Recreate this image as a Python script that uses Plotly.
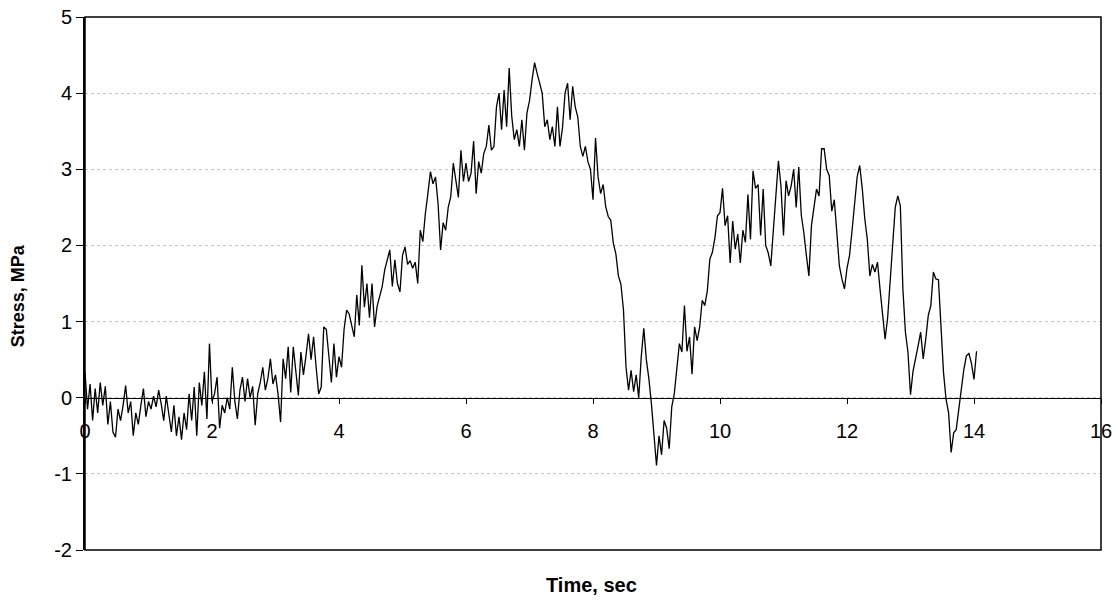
import numpy as np
import plotly.graph_objects as go

# Sampling interval of the record (s)
DT = 0.04

# Stress readings (MPa), one list per second of record, sampled every DT
stress_s00 = [0.33, -0.15, 0.18, -0.30, 0.12, -0.20, 0.20, -0.10, 0.15, -0.35,
              -0.05, -0.45, -0.52, -0.15, -0.30, -0.10, 0.16, -0.20, -0.05, -0.50,
              -0.20, -0.35, -0.10, 0.12, -0.25]
stress_s01 = [-0.05, -0.15, 0.02, -0.12, 0.10, -0.08, -0.30, 0.02, -0.20, -0.45,
              -0.10, -0.50, -0.25, -0.55, -0.20, -0.42, 0.05, -0.30, 0.14, -0.50,
              0.20, -0.10, 0.34, -0.28, 0.71]
stress_s02 = [-0.05, 0.05, 0.27, -0.40, -0.10, -0.20, 0.00, -0.15, 0.40, -0.05,
              -0.28, 0.10, 0.27, -0.05, 0.25, 0.00, 0.15, -0.36, 0.05, 0.20,
              0.40, 0.10, 0.25, 0.51, 0.18]
stress_s03 = [0.30, 0.05, -0.32, 0.51, 0.25, 0.67, 0.07, 0.67, 0.35, 0.03,
              0.60, 0.30, 0.55, 0.84, 0.50, 0.80, 0.40, 0.05, 0.14, 0.93,
              0.90, 0.50, 0.20, 0.71, 0.27]
stress_s04 = [0.54, 0.40, 0.90, 1.15, 1.10, 0.93, 0.80, 1.35, 0.95, 1.74,
              1.19, 1.50, 1.05, 1.50, 0.93, 1.20, 1.35, 1.46, 1.68, 1.81,
              1.94, 1.46, 1.81, 1.50, 1.39]
stress_s05 = [1.87, 1.98, 1.75, 1.80, 1.70, 1.78, 1.50, 2.20, 2.05, 2.42,
              2.68, 2.97, 2.81, 2.90, 2.55, 1.94, 2.30, 2.20, 2.50, 2.64,
              3.08, 2.84, 2.63, 3.25, 2.84]
stress_s06 = [3.08, 2.84, 2.95, 3.37, 2.68, 3.10, 2.95, 3.21, 3.30, 3.58,
              3.25, 3.30, 3.82, 4.00, 3.52, 4.04, 3.56, 4.33, 3.70, 3.39,
              3.52, 3.30, 3.65, 3.25, 3.74]
stress_s07 = [3.90, 4.17, 4.40, 4.26, 4.13, 4.00, 3.56, 3.65, 3.39, 3.56,
              3.30, 3.82, 3.30, 3.55, 4.00, 4.13, 3.65, 4.09, 3.82, 3.69,
              3.30, 3.17, 3.30, 3.10, 3.00]
stress_s08 = [2.60, 3.41, 2.90, 2.68, 2.80, 2.51, 2.38, 2.33, 2.03, 1.89,
              1.60, 1.49, 1.15, 0.40, 0.10, 0.36, 0.08, 0.30, 0.00, 0.54,
              0.91, 0.50, 0.25, -0.08, -0.55]
stress_s09 = [-0.89, -0.50, -0.75, -0.30, -0.40, -0.67, -0.12, 0.05, 0.40, 0.71,
              0.60, 1.21, 0.61, 0.80, 0.31, 0.93, 0.75, 0.93, 1.28, 1.21,
              1.40, 1.82, 1.91, 2.10, 2.39]
stress_s10 = [2.43, 2.75, 2.26, 2.39, 1.77, 2.32, 1.95, 2.15, 1.77, 2.20,
              2.04, 2.67, 2.08, 2.98, 2.75, 2.80, 2.13, 2.74, 2.00, 1.90,
              1.73, 2.20, 2.61, 3.11, 2.78]
stress_s11 = [2.13, 2.85, 2.65, 2.78, 3.00, 2.50, 3.03, 2.40, 2.17, 1.87,
              1.60, 2.26, 2.52, 2.74, 2.65, 3.27, 3.27, 3.00, 2.92, 2.45,
              2.60, 2.17, 1.73, 1.56, 1.43]
stress_s12 = [1.70, 1.87, 2.20, 2.61, 2.90, 3.05, 2.75, 2.35, 2.08, 1.60,
              1.75, 1.65, 1.78, 1.43, 1.12, 0.77, 1.05, 1.56, 2.00, 2.50,
              2.65, 2.52, 1.43, 0.86, 0.60]
stress_s13 = [0.04, 0.35, 0.50, 0.68, 0.86, 0.51, 0.77, 1.08, 1.21, 1.65,
              1.56, 1.55, 0.94, 0.33, -0.02, -0.20, -0.72, -0.46, -0.42, -0.11,
              0.11, 0.37, 0.55, 0.58, 0.45]
stress_s14 = [0.24, 0.61]

x_ticks = [0, 2, 4, 6, 8, 10, 12, 14, 16]
y_ticks = [-2, -1, 0, 1, 2, 3, 4, 5]

stress = (stress_s00 + stress_s01 + stress_s02 + stress_s03 + stress_s04 +
          stress_s05 + stress_s06 + stress_s07 + stress_s08 + stress_s09 +
          stress_s10 + stress_s11 + stress_s12 + stress_s13 + stress_s14)
time = np.round(np.arange(len(stress)) * DT, 4)

FONT = "Liberation Sans, Arial, sans-serif"

fig = go.Figure()
fig.add_trace(go.Scatter(x=time, y=stress, mode="lines",
                         line=dict(color="black", width=1.3),
                         showlegend=False, hoverinfo="skip"))

fig.update_layout(
    width=1120, height=604,
    margin=dict(l=85, r=19, t=17, b=54, autoexpand=False),
    paper_bgcolor="white", plot_bgcolor="white",
    font=dict(family=FONT, color="black"),
    xaxis=dict(
        range=[0, 16], tickvals=x_ticks, ticktext=[str(v) for v in x_ticks],
        anchor="free", position=2 / 7, automargin=False,
        showline=True, linecolor="black", linewidth=1,
        ticks="outside", ticklen=5, tickcolor="black", tickwidth=1,
        ticklabelstandoff=10,
        showgrid=False, zeroline=False,
        tickfont=dict(size=20, family=FONT, color="black"),
    ),
    yaxis=dict(
        range=[-2, 5], tickvals=y_ticks, ticktext=[str(v) for v in y_ticks],
        automargin=False,
        showline=True, linecolor="black", linewidth=2,
        ticks="outside", ticklen=7, tickcolor="black", tickwidth=1,
        showgrid=True, gridcolor="#c4c4c4", griddash="dot", gridwidth=1,
        zeroline=False,
        tickfont=dict(size=20, family=FONT, color="black"),
    ),
    shapes=[dict(type="rect", xref="paper", yref="paper", x0=0, x1=1, y0=0, y1=1,
                 line=dict(color="black", width=1.5), layer="above")],
    annotations=[
        dict(text="<b>Time, sec</b>", xref="paper", yref="paper",
             x=0.499, y=-0.066, xanchor="center", yanchor="middle",
             showarrow=False, font=dict(size=20, family=FONT, color="black")),
        dict(text="<b>Stress, MPa</b>", xref="paper", yref="paper",
             x=-0.066, y=0.478, xanchor="center", yanchor="middle",
             textangle=-90, showarrow=False,
             font=dict(size=18, family=FONT, color="black")),
    ],
)

fig.write_html("out.html")
